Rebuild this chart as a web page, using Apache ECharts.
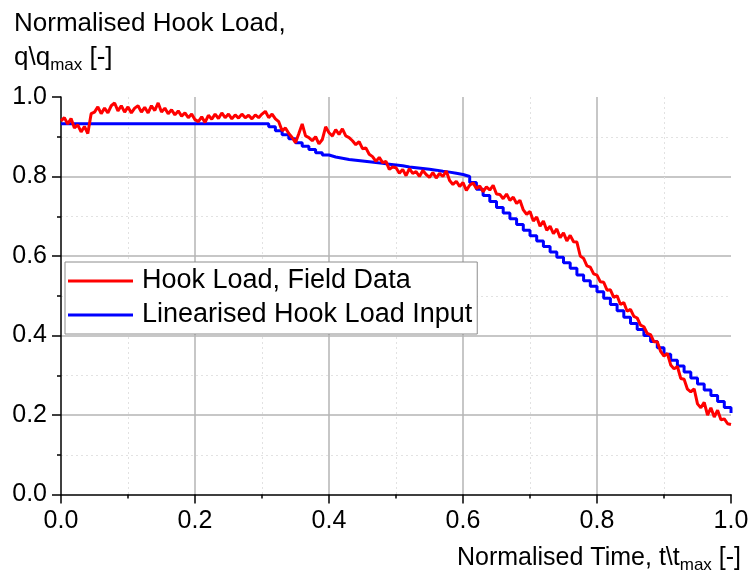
<!DOCTYPE html>
<html>
<head>
<meta charset="utf-8">
<script src="https://cdn.jsdelivr.net/npm/echarts@6/dist/echarts.min.js"></script>
<style>
html, body { margin: 0; padding: 0; background: #fff; }
#chart { width: 755px; height: 576px; }
</style>
</head>
<body>
<div id="chart"></div>
<script>
// field data, sampled every FIELD_STEP of normalised time
var FIELD_STEP = 0.005;
var fieldLoad = [
    0.940, 0.948, 0.932, 0.946, 0.922, 0.930, 0.912, 0.926, 0.908, 0.958,
    0.962, 0.975, 0.958, 0.972, 0.960, 0.978, 0.985, 0.965, 0.978, 0.962,
    0.975, 0.960, 0.972, 0.978, 0.962, 0.974, 0.960, 0.978, 0.966, 0.985,
    0.962, 0.972, 0.958, 0.968, 0.955, 0.965, 0.952, 0.960, 0.948, 0.957,
    0.943, 0.938, 0.950, 0.936, 0.954, 0.944, 0.957, 0.946, 0.960, 0.948,
    0.957, 0.945, 0.955, 0.947, 0.957, 0.948, 0.954, 0.945, 0.955, 0.948,
    0.957, 0.964, 0.948, 0.957, 0.945, 0.938, 0.915, 0.922, 0.908, 0.898,
    0.885, 0.908, 0.932, 0.902, 0.898, 0.890, 0.900, 0.882, 0.893, 0.925,
    0.910, 0.902, 0.918, 0.906, 0.920, 0.902, 0.898, 0.890, 0.880, 0.888,
    0.870, 0.872, 0.856, 0.850, 0.838, 0.848, 0.835, 0.838, 0.818, 0.824,
    0.822, 0.808, 0.818, 0.802, 0.820, 0.808, 0.812, 0.800, 0.815, 0.805,
    0.798, 0.810, 0.796, 0.808, 0.800, 0.814, 0.790, 0.780, 0.788, 0.775,
    0.785, 0.765, 0.778, 0.784, 0.770, 0.776, 0.762, 0.774, 0.766, 0.778,
    0.756, 0.755, 0.744, 0.756, 0.740, 0.748, 0.732, 0.740, 0.716, 0.705,
    0.712, 0.688, 0.698, 0.675, 0.688, 0.665, 0.675, 0.656, 0.668, 0.646,
    0.658, 0.638, 0.652, 0.636, 0.635, 0.600, 0.594, 0.575, 0.572, 0.555,
    0.552, 0.535, 0.534, 0.514, 0.515, 0.496, 0.500, 0.478, 0.483, 0.461,
    0.466, 0.448, 0.444, 0.426, 0.422, 0.405, 0.402, 0.384, 0.384, 0.360,
    0.348, 0.355, 0.326, 0.316, 0.322, 0.292, 0.290, 0.265, 0.258, 0.266,
    0.228, 0.218, 0.232, 0.200, 0.218, 0.195, 0.212, 0.188, 0.190, 0.178,
    0.176
];

// linearised input, one step every INPUT_STEP
var INPUT_STEP = 0.01;
var inputLoad = [
    0.933, 0.933, 0.933, 0.933, 0.933, 0.933, 0.933, 0.933, 0.933, 0.933,
    0.933, 0.933, 0.933, 0.933, 0.933, 0.933, 0.933, 0.933, 0.933, 0.933,
    0.933, 0.933, 0.933, 0.933, 0.933, 0.933, 0.933, 0.933, 0.933, 0.933,
    0.933, 0.925, 0.915, 0.905, 0.895, 0.885, 0.876, 0.868, 0.860, 0.854,
    0.849, 0.846, 0.843, 0.841, 0.839, 0.837, 0.835, 0.833, 0.831, 0.829,
    0.827, 0.824, 0.822, 0.820, 0.818, 0.816, 0.813, 0.811, 0.808, 0.805,
    0.800, 0.785, 0.768, 0.752, 0.737, 0.722, 0.708, 0.694, 0.679, 0.665,
    0.651, 0.638, 0.624, 0.610, 0.597, 0.583, 0.569, 0.552, 0.538, 0.524,
    0.510, 0.494, 0.478, 0.462, 0.446, 0.430, 0.415, 0.400, 0.385, 0.369,
    0.353, 0.338, 0.323, 0.308, 0.293, 0.278, 0.263, 0.249, 0.234, 0.219,
    0.205
];

var seriesNames = ['Hook Load, Field Data', 'Linearised Hook Load Input'];
var seriesColors = ['#ff0000', '#0000ff'];

var toPairs = function (values, step) {
    return values.map(function (v, i) {
        return [+(i * step).toFixed(3), v];
    });
};

var FONT = '"Liberation Sans", Arial, sans-serif';

var axisCommon = {
    type: 'value',
    min: 0,
    max: 1,
    interval: 0.2,
    axisLine: { show: true, lineStyle: { color: '#000', width: 1.5 } },
    axisTick: { show: true, inside: false, length: 9, lineStyle: { color: '#000', width: 1.5 } },
    minorTick: { show: true, splitNumber: 2, length: 4, lineStyle: { color: '#000', width: 1.5 } },
    splitLine: { show: true, showMinLine: false, showMaxLine: false, lineStyle: { color: '#b4b4b4', width: 1.5 } },
    minorSplitLine: { show: true, lineStyle: { color: '#e2e2e2', type: [2, 3], width: 1 } },
    axisLabel: {
        color: '#000',
        fontSize: 25,
        fontFamily: FONT,
        formatter: function (v) { return v.toFixed(1); }
    }
};

var option = {
    animation: false,
    textStyle: { fontFamily: FONT },
    grid: { left: 61, right: 24, top: 97, bottom: 81.5, containLabel: false },
    xAxis: echarts.util.merge({ axisLabel: { margin: 14 } }, axisCommon, true),
    yAxis: echarts.util.merge({ axisLabel: { margin: 14 } }, axisCommon, true),
    legend: {
        orient: 'vertical',
        left: 65,
        top: 262,
        data: seriesNames,
        icon: 'rect',
        itemWidth: 65,
        itemHeight: 3,
        itemGap: 4,
        padding: [4, 5, 4, 3],
        backgroundColor: '#fff',
        borderColor: '#8c8c8c',
        borderWidth: 1,
        borderRadius: 0,
        textStyle: { color: '#000', fontSize: 27, fontFamily: FONT, lineHeight: 30, padding: [0, 0, 0, 4] }
    },
    graphic: [
        {
            type: 'text', x: 14, y: 24,
            style: { text: 'Normalised Hook Load,', fill: '#000', font: '26px ' + FONT, verticalAlign: 'middle' }
        },
        {
            type: 'text', x: 14, y: 58,
            style: {
                text: '{a|q\\q}{s|max}{a| [-]}',
                verticalAlign: 'middle',
                rich: {
                    a: { fontSize: 26, fontFamily: FONT, fill: '#000' },
                    s: { fontSize: 17, fontFamily: FONT, fill: '#000', padding: [15, 0, 0, 0] }
                }
            }
        },
        {
            type: 'text', x: 741, y: 558,
            style: {
                text: '{a|Normalised Time, t\\t}{s|max}{a| [-]}',
                align: 'right',
                verticalAlign: 'middle',
                rich: {
                    a: { fontSize: 25, fontFamily: FONT, fill: '#000' },
                    s: { fontSize: 17, fontFamily: FONT, fill: '#000', padding: [15, 0, 0, 0] }
                }
            }
        }
    ],
    series: [
        {
            name: seriesNames[1],
            type: 'line',
            step: 'end',
            symbol: 'none',
            color: seriesColors[1],
            lineStyle: { width: 3 },
            data: toPairs(inputLoad, INPUT_STEP)
        },
        {
            name: seriesNames[0],
            type: 'line',
            symbol: 'none',
            color: seriesColors[0],
            lineStyle: { width: 3 },
            data: toPairs(fieldLoad, FIELD_STEP)
        }
    ]
};

var myChart = echarts.init(document.getElementById('chart'));
myChart.setOption(option);
</script>
</body>
</html>
